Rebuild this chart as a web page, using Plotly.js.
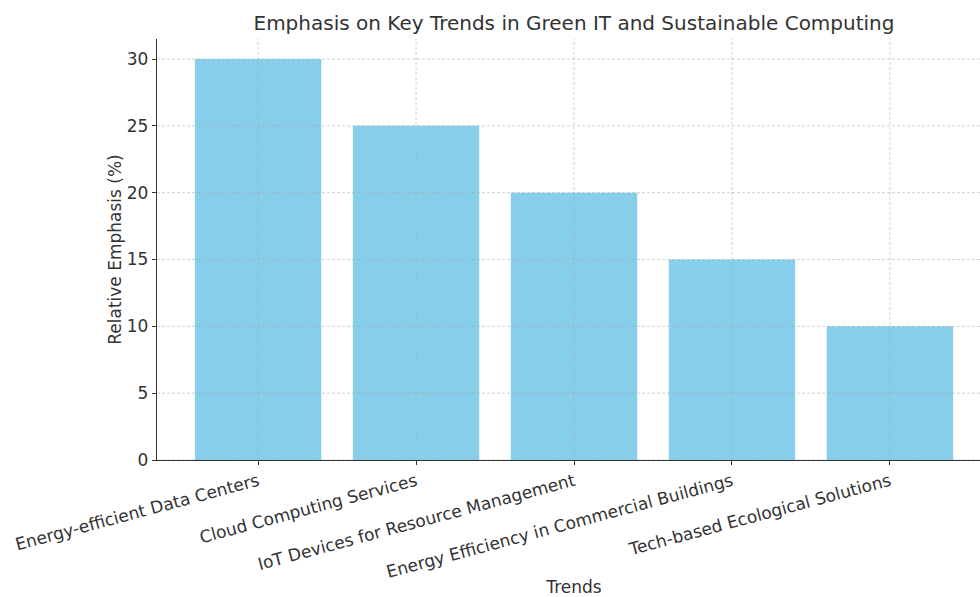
<!DOCTYPE html>
<html>
<head>
<meta charset="utf-8">
<script src="https://cdn.plot.ly/plotly-3.0.1.min.js"></script>
<style>
html, body { margin: 0; padding: 0; overflow: hidden; background: #fff; }
#chart { width: 1000px; height: 597px; }
</style>
</head>
<body>
<div id="chart"></div>
<script>
const categories = [
  "Energy-efficient Data Centers",
  "Cloud Computing Services",
  "IoT Devices for Resource Management",
  "Energy Efficiency in Commercial Buildings",
  "Tech-based Ecological Solutions"
];
const emphasis = [30, 25, 20, 15, 10];
const yTicks = [0, 5, 10, 15, 20, 25, 30];

const font = "DejaVu Sans, Verdana, sans-serif";
const gridStyle = { color: "rgba(170,170,170,0.55)", width: 1, dash: "3px,2px" };

const shapes = [];
yTicks.forEach(v => shapes.push({
  type: "line", xref: "paper", x0: 0, x1: 1, yref: "y", y0: v, y1: v,
  layer: "above", line: gridStyle
}));
categories.forEach((c, i) => shapes.push({
  type: "line", xref: "x", x0: i, x1: i, yref: "paper", y0: 0, y1: 1,
  layer: "above", line: gridStyle
}));

const trace = {
  type: "bar",
  x: categories.map((c, i) => i),
  y: emphasis,
  width: 0.8,
  marker: { color: "#87CEEB", line: { width: 0 } },
  hoverinfo: "skip"
};

const layout = {
  width: 1000, height: 597,
  margin: { l: 157, r: 9, t: 39, b: 137 },
  paper_bgcolor: "#fff", plot_bgcolor: "#fff",
  font: { family: font, color: "#333", size: 17 },
  title: {
    text: "Emphasis on Key Trends in Green IT and Sustainable Computing",
    font: { family: font, size: 20, color: "#333" },
    x: 0.5, xanchor: "center", xref: "paper",
    y: 0.962, yanchor: "middle"
  },
  showlegend: false,
  xaxis: {
    range: [-0.64, 4.64],
    tickmode: "array",
    tickvals: categories.map((c, i) => i),
    ticktext: categories,
    tickangle: -15,
    ticks: "outside", ticklen: 4, tickcolor: "#333", tickwidth: 1,
    showgrid: false, zeroline: false,
    showline: true, linecolor: "#333", linewidth: 1.2,
    tickfont: { size: 17, color: "#333", family: font },
    title: { text: "Trends", font: { size: 17, color: "#333", family: font }, standoff: 10 },
    automargin: false, fixedrange: true
  },
  yaxis: {
    range: [0, 31.5],
    tickmode: "array",
    tickvals: yTicks,
    ticks: "outside", ticklen: 4, tickcolor: "#333", tickwidth: 1,
    showgrid: false, zeroline: false,
    showline: true, linecolor: "#333", linewidth: 1.2,
    tickfont: { size: 17, color: "#333", family: font },
    title: { text: "Relative Emphasis (%)", font: { size: 17, color: "#333", family: font }, standoff: 0 },
    automargin: false, fixedrange: true
  },
  shapes: shapes
};

Plotly.newPlot("chart", [trace], layout, { displayModeBar: false, staticPlot: true });
</script>
</body>
</html>
